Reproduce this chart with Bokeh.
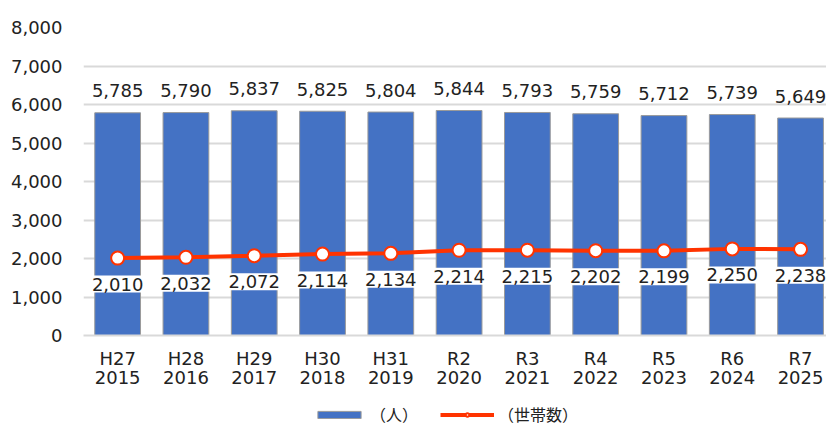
from bokeh.plotting import figure
from bokeh.layouts import column
from bokeh.core.properties import value
from bokeh.models import (ColumnDataSource, LabelSet, Legend, LegendItem,
                          FixedTicker, NumeralTickFormatter, Range1d)
from bokeh.embed import file_html
from bokeh.resources import INLINE

wareki = ["H27", "H28", "H29", "H30", "H31", "R2", "R3", "R4", "R5", "R6", "R7"]
years = ["2015", "2016", "2017", "2018", "2019", "2020", "2021", "2022", "2023", "2024", "2025"]
population = [5785, 5790, 5837, 5825, 5804, 5844, 5793, 5759, 5712, 5739, 5649]
households = [2010, 2032, 2072, 2114, 2134, 2214, 2215, 2202, 2199, 2250, 2238]
y_ticks = [0, 1000, 2000, 3000, 4000, 5000, 6000, 7000, 8000]
pop_label = "（人）"
hh_label = "（世帯数）"

FONT = "DejaVu Sans"
JFONT = "Noto Sans CJK JP"
BLUE = "#4472C4"
RED = "#FF3300"
TXT = "#222222"

xs = list(range(len(wareki)))
src = ColumnDataSource(dict(
    x=xs,
    pop=population,
    hh=households,
    pop_txt=[f"{v:,}" for v in population],
    hh_txt=[f"{v:,}" for v in households],
))

p = figure(width=826, height=390, output_backend="svg", toolbar_location=None,
           x_range=Range1d(-0.5, 10.38), y_range=Range1d(0, 8000),
           min_border_left=83, min_border_right=0, min_border_top=27,
           min_border_bottom=52)
p.outline_line_color = None
p.background_fill_color = "white"
p.border_fill_color = "white"

bar_style = dict(fill_color=BLUE, line_color="#9a9a9a", line_width=1)
line_style = dict(line_color=RED, line_width=4)
pt_style = dict(marker="circle", size=13, fill_color="white", line_color=RED, line_width=2)

p.vbar(x="x", top="pop", width=0.67, source=src, **bar_style)

hh_labels = LabelSet(x="x", y="hh", text="hh_txt", source=src, y_offset=-26,
                     text_align="center", text_baseline="middle",
                     text_font=value(FONT), text_font_size=value("18px"), text_color=TXT,
                     background_fill_color="white", background_fill_alpha=1.0,
                     border_line_color="white", border_line_width=4)
p.add_layout(hh_labels)

p.line(x="x", y="hh", source=src, **line_style)
p.scatter(x="x", y="hh", source=src, **pt_style)

pop_labels = LabelSet(x="x", y="pop", text="pop_txt", source=src, y_offset=22,
                      text_align="center", text_baseline="middle",
                      text_font=value(FONT), text_font_size=value("18px"), text_color=TXT)
p.add_layout(pop_labels)

# axes
p.yaxis.ticker = FixedTicker(ticks=y_ticks)
p.yaxis.formatter = NumeralTickFormatter(format="0,0")
p.yaxis.axis_line_color = None
p.yaxis.major_tick_line_color = None
p.yaxis.minor_tick_line_color = None
p.yaxis.major_label_standoff = 15
p.yaxis.major_label_text_font = FONT
p.yaxis.major_label_text_font_size = "18px"
p.yaxis.major_label_text_color = TXT

p.xaxis.ticker = FixedTicker(ticks=xs)
p.xaxis.major_label_overrides = {i: f"{w}\n{y}" for i, (w, y) in enumerate(zip(wareki, years))}
p.xaxis.axis_line_color = "#D9D9D9"
p.xaxis.axis_line_width = 2
p.xaxis.major_tick_line_color = None
p.xaxis.minor_tick_line_color = None
p.xaxis.major_label_standoff = 6
p.xaxis.major_label_text_font = FONT
p.xaxis.major_label_text_font_size = "18px"
p.xaxis.major_label_text_line_height = 0.92
p.xaxis.major_label_text_color = TXT

p.xgrid.grid_line_color = None
p.ygrid.grid_line_color = "#D9D9D9"
p.ygrid.grid_line_width = 2

# legend strip (separate small figure; its renderers sit outside its visible range)
lg = figure(width=826, height=36, output_backend="svg", toolbar_location=None,
            x_axis_type=None, y_axis_type=None,
            x_range=Range1d(0, 1), y_range=Range1d(0, 1),
            min_border=0)
lg.outline_line_color = None
lg.grid.visible = False
hidden = ColumnDataSource(dict(x=[-10], pop=[-10], hh=[-10]))
r_bar = lg.vbar(x="x", top="pop", width=0.67, source=hidden, **bar_style)
r_line = lg.line(x="x", y="hh", source=hidden, **line_style)
r_pt = lg.scatter(x="x", y="hh", source=hidden, **pt_style)

legend = Legend(items=[LegendItem(label=pop_label, renderers=[r_bar]),
                       LegendItem(label=hh_label, renderers=[r_line, r_pt])],
                orientation="horizontal", location=(229, 0),
                glyph_width=54, glyph_height=9, label_standoff=4, spacing=22,
                label_text_font=JFONT, label_text_font_size="16px",
                label_text_color=TXT,
                border_line_color=None, background_fill_alpha=0,
                margin=0, padding=0)
lg.add_layout(legend)

open("out.html", "w").write(file_html(column(p, lg, spacing=0), INLINE))
